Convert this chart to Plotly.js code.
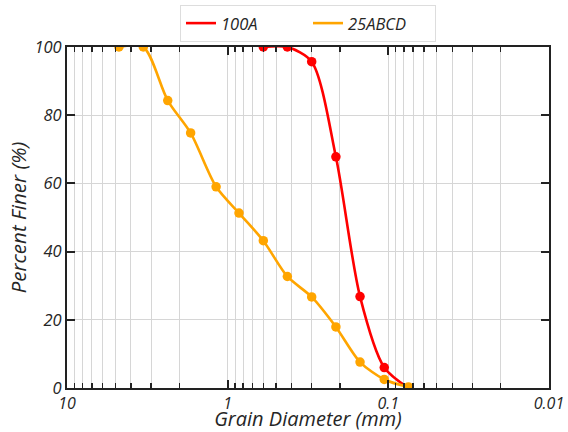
<!DOCTYPE html>
<html>
<head>
<meta charset="utf-8">
<script src="https://cdn.plot.ly/plotly-3.0.1.min.js"></script>
<style>html,body{margin:0;padding:0;background:#fff;}#chart{width:568px;height:432px;}</style>
</head>
<body>
<div id="chart"></div>
<script>
// Sieve sizes (mm)
const sizes = [4.75, 3.35, 2.36, 1.7, 1.18, 0.85, 0.6, 0.425, 0.3, 0.212, 0.15, 0.106, 0.075];
const sizes100A = [0.6, 0.425, 0.3, 0.212, 0.15, 0.106, 0.075];
const finer100A = [100, 100, 95.7, 67.8, 26.8, 6.0, 0];
const finer25ABCD = [100, 100, 84.3, 74.8, 59.0, 51.3, 43.2, 32.7, 26.7, 17.9, 7.6, 2.5, 0.3];

const majorTicks = [10, 1, 0.1, 0.01];
const majorLabels = ['10', '1', '0.1', '0.01'];
const minorTicks = [];
[1, 0.1, 0.01].forEach(d => { for (let k = 2; k <= 9; k++) minorTicks.push(+(k * d).toFixed(4)); });
const yTicks = [0, 20, 40, 60, 80, 100];

const fontFam = '"Open Sans", sans-serif';
const txt = '#262626';

function series(name, x, y, color) {
  return [
    {x: x, y: y, name: name, type: 'scatter', mode: 'lines',
     line: {color: color, width: 2.6, shape: 'spline', smoothing: 0.8}, showlegend: true, hoverinfo: 'skip'},
    {x: x, y: y, name: name, type: 'scatter', mode: 'markers',
     marker: {color: color, size: 9.5}, showlegend: false}
  ];
}

const data = [].concat(
  series('100A', sizes100A, finer100A, '#ff0000'),
  series('25ABCD', sizes, finer25ABCD, '#ffa500')
);

const layout = {
  width: 568, height: 432,
  margin: {l: 67, r: 19, t: 47, b: 44, pad: 0, autoexpand: false},
  paper_bgcolor: '#fff', plot_bgcolor: '#fff',
  font: {family: fontFam, size: 16, color: txt, style: 'italic'},
  showlegend: true,
  legend: {orientation: 'h', x: 0.5, xanchor: 'center', y: 1.015, yanchor: 'bottom',
           entrywidth: 82,
           bordercolor: '#dddddd', borderwidth: 1, bgcolor: '#fff',
           font: {family: fontFam, size: 16.5, color: txt, style: 'italic'}},
  xaxis: {
    type: 'log', autorange: false, range: [1, -2], automargin: true,
    tickmode: 'array', tickvals: majorTicks, ticktext: majorLabels,
    ticks: 'inside', ticklen: 8, tickwidth: 2, tickcolor: '#222',
    showline: true, linecolor: '#222', linewidth: 2, mirror: 'ticks',
    showgrid: true, gridcolor: '#d6d6d6', gridwidth: 1, zeroline: false,
    minor: {tickmode: 'array', tickvals: minorTicks, ticks: 'inside', ticklen: 5,
            tickwidth: 1.5, tickcolor: '#222', showgrid: true, gridcolor: '#d6d6d6', gridwidth: 1},
    tickfont: {family: fontFam, size: 16, color: txt, style: 'italic'},
    title: {text: 'Grain Diameter (mm)', font: {family: fontFam, size: 20, color: txt, style: 'italic'}, standoff: 2}
  },
  yaxis: {
    range: [0, 100], autorange: false,
    tickmode: 'array', tickvals: yTicks,
    ticks: 'inside', ticklen: 8, tickwidth: 2, tickcolor: '#222',
    showline: true, linecolor: '#222', linewidth: 2, mirror: 'ticks',
    showgrid: true, gridcolor: '#d6d6d6', gridwidth: 1, zeroline: false,
    tickfont: {family: fontFam, size: 16.5, color: txt, style: 'italic'},
    title: {text: 'Percent Finer (%)', font: {family: fontFam, size: 20.5, color: txt, style: 'italic'}, standoff: 2}
  }
};

Plotly.newPlot('chart', data, layout, {displayModeBar: false, staticPlot: true});
</script>
</body>
</html>
